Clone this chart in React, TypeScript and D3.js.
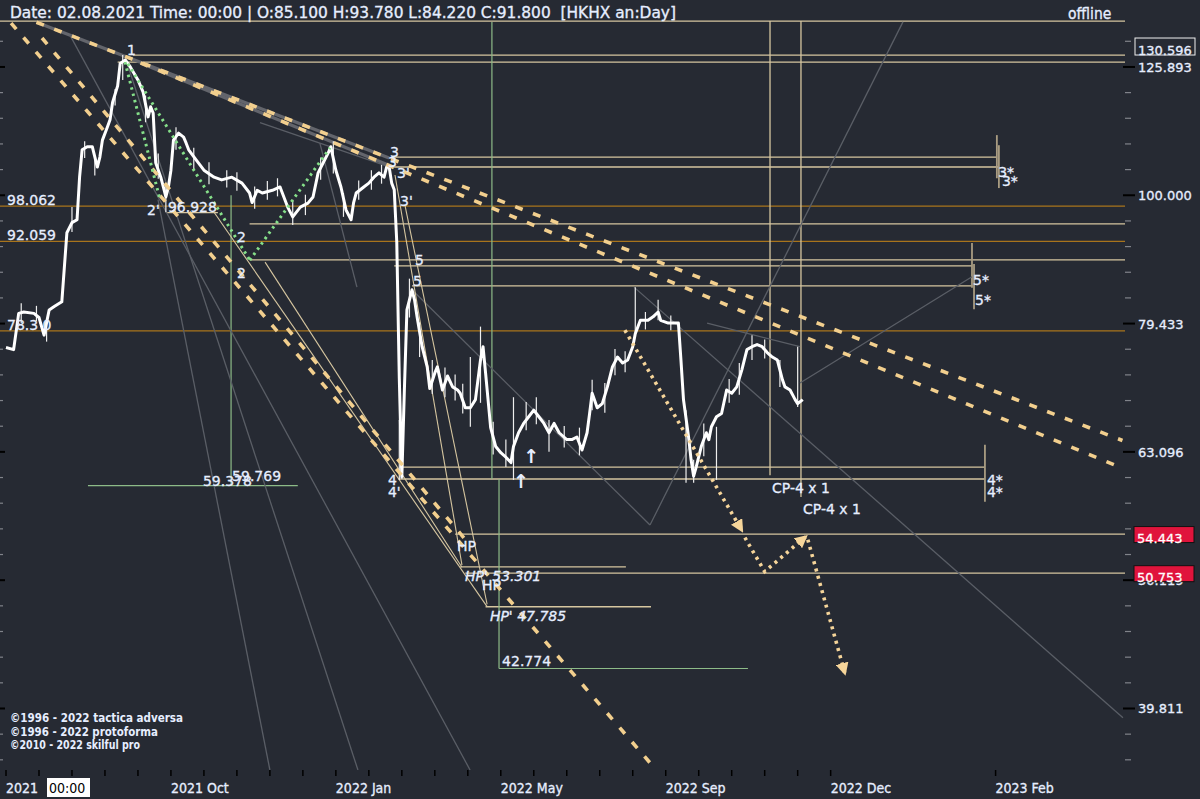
import * as d3 from "d3";
import React from "react";

// ---- chart data (bar index, price) ----
const closes: [number, number][] = [
  [0, 76.1], [3, 75.8], [5, 80.9], [7, 81.1], [11, 80.9], [13, 80.3], [15, 77.8], [17, 81.4], [19, 81.9], [22, 82.6],
  [24, 93.5], [26, 95.2], [28, 95.7], [29, 103.3], [30, 108.5], [32, 109.1], [34, 109.1], [36, 105.2], [37, 107.1], [38, 110.4],
  [40, 113.1], [41, 114.5], [42, 118.1], [44, 121.7], [45, 126.7], [47, 127.5], [49, 125.9], [52, 123.0], [54, 120.4], [56, 115.1],
  [57, 117.2], [58, 115.9], [59, 106.0], [61, 103.3], [62, 101.5], [63, 99.7], [64, 101.5], [65, 104.6], [66, 110.4], [68, 111.8],
  [70, 111.0], [71, 109.8], [72, 108.5], [75, 106.5], [78, 104.6], [82, 103.3], [85, 102.8], [89, 103.3], [93, 102.2], [96, 100.4],
  [97, 98.7], [99, 100.9], [101, 100.4], [105, 100.9], [108, 101.5], [111, 97.9], [113, 96.2], [116, 97.9], [119, 98.6], [121, 99.7],
  [123, 104.1], [125, 106.0], [127, 107.9], [128, 109.1], [130, 104.6], [132, 101.5], [134, 97.4], [136, 95.7], [137, 98.7], [138, 100.4],
  [141, 101.5], [143, 102.2], [145, 103.3], [147, 104.1], [149, 103.3], [150, 105.2], [151, 105.2], [152, 102.2], [153, 101.0], [154, 92.0],
  [155, 72.0], [156, 60.3], [157, 70.5], [158, 81.4], [160, 84.4], [161, 82.9], [162, 80.4], [164, 76.2], [166, 73.5], [167, 70.7],
  [169, 72.7], [170, 73.5], [172, 70.5], [174, 72.3], [176, 70.9], [178, 70.5], [179, 70.1], [181, 68.3], [183, 68.3], [185, 69.3],
  [187, 74.4], [188, 76.2], [189, 72.7], [191, 65.9], [193, 63.7], [195, 63.0], [197, 62.5], [199, 61.9], [200, 63.7], [202, 65.3],
  [204, 66.4], [206, 67.2], [208, 68.0], [210, 67.2], [212, 66.4], [214, 65.3], [216, 66.4], [218, 65.3], [221, 64.5], [223, 64.5],
  [225, 64.8], [227, 63.3], [229, 65.3], [230, 67.6], [231, 70.1], [233, 68.3], [235, 68.8], [237, 70.9], [239, 73.5], [241, 74.8],
  [243, 74.0], [245, 74.4], [247, 76.2], [248, 78.0], [250, 79.9], [253, 79.9], [255, 80.4], [257, 81.1], [258, 79.9], [261, 79.5],
  [263, 79.5], [265, 79.5], [266, 74.4], [267, 69.3], [269, 64.8], [270, 62.2], [271, 60.4], [272, 61.4], [274, 63.7], [276, 65.3],
  [277, 64.5], [278, 66.0], [280, 67.2], [282, 67.6], [284, 70.5], [286, 70.1], [288, 70.9], [290, 73.1], [292, 75.8], [294, 76.2],
  [296, 76.5], [298, 76.2], [300, 75.4], [302, 74.8], [304, 74.4], [306, 71.8], [307, 70.9], [309, 70.5], [311, 69.3], [312, 68.8],
  [314, 69.3],
];

// high/low wicks [index, low, high]
const wicks: [number, number, number][] = [
  [6, 79.5, 82.4], [12, 79.8, 82.0], [16, 76.9, 79.6], [26, 93.6, 97.9], [31, 106.9, 110.2], [35, 103.6, 106.8],
  [43, 117.5, 121.0], [46, 123.0, 128.6], [55, 114.0, 119.6], [60, 103.0, 107.8], [63, 97.0, 101.9], [67, 108.5, 113.0],
  [74, 104.8, 108.9], [80, 102.0, 106.1], [87, 101.4, 104.6], [91, 100.8, 104.2], [98, 97.6, 101.6], [103, 99.2, 102.6],
  [107, 99.8, 103.1], [113, 94.8, 99.2], [118, 96.5, 100.1], [124, 102.8, 107.0], [129, 104.0, 110.2], [133, 96.2, 100.4],
  [139, 99.2, 102.7], [144, 101.0, 104.6], [148, 102.1, 105.6], [155, 60.0, 66.8], [159, 80.3, 86.1], [163, 74.8, 79.6],
  [168, 70.0, 74.4], [173, 69.6, 73.4], [177, 69.2, 72.5], [180, 67.6, 71.3], [183, 66.0, 74.8], [187, 68.9, 79.0],
  [192, 62.8, 66.6], [197, 61.4, 64.5], [200, 60.0, 69.6], [205, 65.6, 69.0], [209, 66.3, 69.6], [214, 63.1, 66.8],
  [220, 63.6, 66.1], [226, 62.7, 65.9], [231, 68.0, 71.8], [236, 67.7, 71.4], [240, 72.4, 75.9], [244, 72.8, 75.6],
  [248, 78.1, 84.8], [252, 78.6, 81.1], [257, 79.9, 82.9], [262, 78.5, 80.6], [268, 59.7, 68.0], [271, 59.7, 62.2],
  [275, 62.6, 66.4], [280, 60.0, 66.0], [285, 68.9, 71.9], [289, 69.9, 74.0], [294, 74.4, 77.8], [299, 74.6, 77.2],
  [305, 70.9, 74.4], [312, 68.4, 76.2],
];

// axes
const xTickBars = [0, 13, 26, 39, 52, 65, 78, 91, 104, 117, 130, 143, 156, 169, 182, 195, 208, 221, 234, 247, 260, 273, 286, 299, 312, 325, 390];
const xLabels: [number, string][] = [
  [0, "2021"], [65, "2021 Oct"], [130, "2022 Jan"], [195, "2022 May"], [260, "2022 Sep"], [325, "2022 Dec"], [390, "2023 Feb"],
];
const yLabels = [125.893, 100.0, 79.433, 63.096, 50.119, 39.811];

// levels
const orangeLevels: [number, string][] = [[98.062, "98.062"], [92.059, "92.059"], [78.39, "78.3\u00a00"]];
// [price, fromBar, toBar]
const tanLevels: [number, number, number][] = [
  [136.7, -3, 441], [128.6, 50, 441], [127.0, 44, 441], [107.1, 152.5, 390.5], [105.2, 152.5, 391.3],
  [96.928, 63.5, 83.5], [94.98, 96, 441], [89.04, 96, 441], [88.1, 153, 380.7], [85.0, 160, 380.7],
  [61.4, 155, 385.8], [60.1, 155, 385.8], [54.443, 177, 441], [51.33, 179, 244.3], [50.753, 181, 441],
  [47.785, 189, 254.2],
];
const greenLevels: [number, number, number][] = [[59.378, 32.3, 115], [42.774, 194.3, 292.4]];
// [bar, fromPrice, toPrice]
const greenVerticals: [number, number, number][] = [[88.7, 100, 59.378], [191.5, 136.5, 60.1], [194.3, 60.1, 42.774]];
const tanVerticals: [number, number, number][] = [[301.1, 136.7, 60.5], [313.3, 136.7, 58.2]];
const starVerticals: [number, number, number][] = [
  [390.5, 111.4, 103.1], [391.3, 109.4, 101.3], [380.7, 91.8, 84.7], [381.5, 88.4, 81.5], [385.8, 63.9, 57.7],
];

// segments [bar1, price1, bar2, price2]
const dashedChannels: [number, number, number, number][] = [
  [12, 136.4, 440, 64.4], [53, 126.8, 438, 61.5], [2, 136.2, 256, 35.7], [14.2, 132.6, 182.8, 53.4],
];
const greyUnderDashes: [number, number, number, number][] = [[12, 136.4, 151, 106.9], [53, 126.8, 153, 105.1]];
const greyLines: [number, number, number, number][] = [
  [48.1, 126.1, 138.7, 35.65], [59.9, 99.2, 104, 35.65], [25.2, 133.3, 182.9, 35.65], [253.8, 55.34, 353.5, 136.5],
  [247.5, 84.8, 440.2, 39.15], [312.9, 71.4, 380.7, 86.4], [276.3, 79.5, 312.9, 76.2], [100.1, 113.9, 151.3, 105.2],
  [123.7, 109.8, 138.3, 84.8], [160, 84.4, 253.8, 55.34],
];
const greenDotted: [number, number, number, number][] = [
  [46.9, 127.0, 60.7, 99.2], [48, 126.6, 96.1, 89.0], [96.1, 89.0, 127.7, 108.9],
];
const tanThin: [number, number, number, number][] = [
  [153.3, 103.7, 179.7, 51.5], [157.2, 98.3, 189.6, 48.0], [102.1, 88.7, 179.7, 51.3], [82, 97.0, 189.6, 47.8],
];
const arrowPaths: [number, number][][] = [
  [[243.9, 78.5], [290, 54.8]],
  [[291.2, 54.1], [299, 50.9], [315.2, 54.2]],
  [[316, 53.9], [330.6, 42.4]],
];

// labels [bar, price, text, italic]
const labels: [number, number, string, boolean?][] = [
  [47.7, 128.6, "1"], [55.6, 96.5, "2'"], [63.8, 97.0, "96.928"], [91, 92.0, "2"], [91, 86.2, "2"],
  [151.3, 107.1, "3"], [150.5, 105.2, "3"], [154.1, 103.1, "3'"], [155.3, 98.1, "3'"], [161.2, 88.25, "5"],
  [160.4, 85.0, "5"], [150.5, 59.45, "4"], [150.5, 58.2, "4'"], [177.7, 52.8, "HP"], [180.9, 50.07, "HP' 53.301", true],
  [187.6, 49.2, "HP"], [190.7, 46.6, "HP' 47.785", true], [195.5, 43.0, "42.774"], [301.9, 58.6, "CP-4 x 1"],
  [314.1, 56.44, "CP-4 x 1"], [386.6, 59.45, "4*"], [386.6, 58.2, "4*"], [391, 103.3, "3*"], [392.5, 101.7, "3*"],
  [381.1, 85.1, "5*"], [381.9, 82.1, "5*"], [77.6, 59.35, "59.378"], [89.1, 59.9, "59.769"],
];
const upArrows: [number, number][] = [[203.8, 61.85], [199.8, 59.1]];
const priceBoxes: [number, string][] = [[54.443, "#e0143c"], [50.753, "#e0143c"]];
const lastHigh = 130.596;

const HEADER = "Date: 02.08.2021 Time: 00:00 | O:85.100 H:93.780 L:84.220 C:91.800  [HKHX an:Day]";
const COPYRIGHT = ["\u00a91996 - 2022 tactica adversa", "\u00a91996 - 2022 protoforma", "\u00a92010 - 2022 skilful pro"];

const BG = "#262a33";
const TXT = "#e6eeff";
const TAN = "#d6c6a0";
const ORANGE = "#a8741c";
const GREEN = "#8dbb88";
const COND = "'DejaVu Sans Condensed', 'Liberation Sans Narrow', 'DejaVu Sans', sans-serif";
const SANS = "'DejaVu Sans', Verdana, sans-serif";

export default function App() {
  const x = d3.scaleLinear().domain([0, 441]).range([6, 1125]);
  const y = d3.scaleLog().domain([35.65, 136.47]).range([770, 22]);
  const line = d3.line<[number, number]>().x(d => x(d[0])).y(d => y(d[1]));

  const minorTicks = d3.range(-1, 28).map(k => Math.pow(10, 2.1 - 0.02 * k));

  const seg = (s: [number, number, number, number], k: string, props: any) => (
    <line key={k} x1={x(s[0])} y1={y(s[1])} x2={x(s[2])} y2={y(s[3])} {...props} />
  );
  const txtStroke = { stroke: TXT, strokeWidth: 0.3 };

  return (
    <svg width={1200} height={799} style={{ position: "fixed", left: 0, top: 0, background: BG }}>
      <defs>
        <clipPath id="plot">
          <rect x={0} y={18} width={1125} height={752} />
        </clipPath>
        <marker id="ah" viewBox="0 0 10 10" refX={8} refY={5} markerWidth={3.6} markerHeight={3.6} orient="auto">
          <path d="M0,0L10,5L0,10z" fill="#f6d59a" />
        </marker>
      </defs>
      <rect width={1200} height={799} fill={BG} />

      <g clipPath="url(#plot)">
        {/* levels */}
        {orangeLevels.map(([v], i) => (
          <line key={"o" + i} x1={0} x2={x(441)} y1={y(v)} y2={y(v)} stroke={ORANGE} strokeWidth={1.3} />
        ))}
        {tanLevels.map(([v, a, b], i) => (
          <line key={"t" + i} x1={x(a)} x2={x(b)} y1={y(v)} y2={y(v)} stroke={TAN} strokeWidth={1.3} />
        ))}
        {greenLevels.map(([v, a, b], i) => (
          <line key={"g" + i} x1={x(a)} x2={x(b)} y1={y(v)} y2={y(v)} stroke={GREEN} strokeWidth={1.2} />
        ))}
        {greenVerticals.map(([b, p1, p2], i) => (
          <line key={"gv" + i} x1={x(b)} x2={x(b)} y1={y(p1)} y2={y(p2)} stroke={GREEN} strokeWidth={1.2} />
        ))}
        {tanVerticals.map(([b, p1, p2], i) => (
          <line key={"tv" + i} x1={x(b)} x2={x(b)} y1={y(p1)} y2={y(p2)} stroke={TAN} strokeWidth={1.3} />
        ))}
        {starVerticals.map(([b, p1, p2], i) => (
          <line key={"sv" + i} x1={x(b)} x2={x(b)} y1={y(p1)} y2={y(p2)} stroke="#a99c82" strokeWidth={1.8} />
        ))}

        {/* grey construction lines */}
        {greyUnderDashes.map((s, i) => seg(s, "gu" + i, { stroke: "#63656c", strokeWidth: 3.2 }))}
        {greyLines.map((s, i) => seg(s, "gl" + i, { stroke: "#5a5e66", strokeWidth: 1.3 }))}
        {tanThin.map((s, i) => seg(s, "tt" + i, { stroke: TAN, strokeWidth: 1.1 }))}

        {/* price */}
        {wicks.map(([b, lo, hi], i) => (
          <line key={"w" + i} x1={x(b)} x2={x(b)} y1={y(lo)} y2={y(hi)} stroke="#eeeeee" strokeWidth={1.2} />
        ))}
        <path d={line(closes) || ""} fill="none" stroke="#ffffff" strokeWidth={3} strokeLinejoin="round" />

        {/* dashed channels and dotted paths */}
        {dashedChannels.map((s, i) =>
          seg(s, "dc" + i, { stroke: "#f2cf8e", strokeWidth: 3.6, strokeDasharray: "8 11" })
        )}
        {greenDotted.map((s, i) =>
          seg(s, "gd" + i, { stroke: "#86e08a", strokeWidth: 3, strokeDasharray: "2.5 4", strokeLinecap: "butt" })
        )}
        {arrowPaths.map((p, i) => (
          <path
            key={"ap" + i}
            d={line(p) || ""}
            fill="none"
            stroke="#f6d59a"
            strokeWidth={3.6}
            strokeDasharray="3 4.5"
            markerEnd="url(#ah)"
          />
        ))}

        {/* labels */}
        {labels.map(([b, p, t, it], i) => (
          <text
            key={"lb" + i}
            x={x(b)}
            y={y(p)}
            fill={TXT}
            {...txtStroke}
            fontFamily={SANS}
            fontSize={14}
            fontStyle={it ? "italic" : "normal"}
            style={{ whiteSpace: "pre" }}
          >
            {t}
          </text>
        ))}
        {upArrows.map(([b, p], i) => (
          <text key={"ua" + i} x={x(b)} y={y(p)} fill={TXT} fontFamily={SANS} fontSize={19} fontWeight="bold">
            {"\u2191"}
          </text>
        ))}
        {orangeLevels.map(([v, t], i) => (
          <text key={"ol" + i} x={7} y={y(v) - 1} fill={TXT} {...txtStroke} fontFamily={SANS} fontSize={14}>
            {t}
          </text>
        ))}
      </g>

      {/* left ticks */}
      {minorTicks.map((v, i) => (
        <line key={"lt" + i} x1={0} x2={i % 5 === 1 ? 5 : 3} y1={y(v)} y2={y(v)}
          stroke={i % 5 === 1 ? "#000" : "#80838a"} strokeWidth={i % 5 === 1 ? 2 : 1.2} />
      ))}

      {/* right axis */}
      {minorTicks.map((v, i) => (
        <line key={"rt" + i} x1={i % 5 === 1 ? 1123 : 1125} x2={i % 5 === 1 ? 1135 : 1131} y1={y(v)} y2={y(v)}
          stroke={i % 5 === 1 ? "#000" : "#80838a"} strokeWidth={i % 5 === 1 ? 2 : 1.2} />
      ))}
      {yLabels.map(v => (
        <text key={"yl" + v} x={1138} y={y(v) + 5} fill={TXT} {...txtStroke} fontFamily={SANS} fontSize={13}>
          {v.toFixed(3)}
        </text>
      ))}
      <rect x={1135} y={y(lastHigh) - 8.5} width={60} height={17} fill={BG} stroke="#f0f0f0" strokeWidth={1} />
      <text x={1138} y={y(lastHigh) + 8} fill={TXT} {...txtStroke} fontFamily={SANS} fontSize={13}>{lastHigh.toFixed(3)}</text>
      {priceBoxes.map(([v, c]) => (
        <g key={"pb" + v}>
          <rect x={1134} y={y(v) - 7.5} width={60} height={16} fill={c} stroke="#111" strokeWidth={1} />
          <text x={1137} y={y(v) + 9} fill="#fff" stroke="#fff" strokeWidth={0.3} fontFamily={SANS} fontSize={13}>{v.toFixed(3)}</text>
        </g>
      ))}

      {/* bottom axis */}
      {xTickBars.map(b => (
        <line key={"xt" + b} x1={x(b)} x2={x(b)} y1={770} y2={776} stroke="#000" strokeWidth={1.5} />
      ))}
      {xLabels.map(([b, t]) => (
        <text key={"xl" + b} x={x(b)} y={793} fill={TXT} {...txtStroke} fontFamily={COND} fontSize={14}>{t}</text>
      ))}
      <rect x={47} y={778} width={43} height={19} fill="#fff" />
      <text x={49} y={793} fill="#000" fontFamily={COND} fontSize={14}>00:00</text>

      {/* header */}
      <text x={10} y={18} fill={TXT} {...txtStroke} fontFamily={COND} fontSize={15.5} textLength={666} lengthAdjust="spacingAndGlyphs"
        style={{ whiteSpace: "pre" }}>
        {HEADER}
      </text>
      <text x={1068} y={19} fill={TXT} {...txtStroke} fontFamily={COND} fontSize={15.5}>offline</text>

      {/* copyright */}
      {COPYRIGHT.map((t, i) => (
        <text key={"c" + i} x={10} y={722 + i * 13.5} fill={TXT} fontFamily={COND} fontWeight="bold" fontSize={12}
          textLength={[173, 148, 130][i]} lengthAdjust="spacingAndGlyphs">
          {t}
        </text>
      ))}
    </svg>
  );
}
